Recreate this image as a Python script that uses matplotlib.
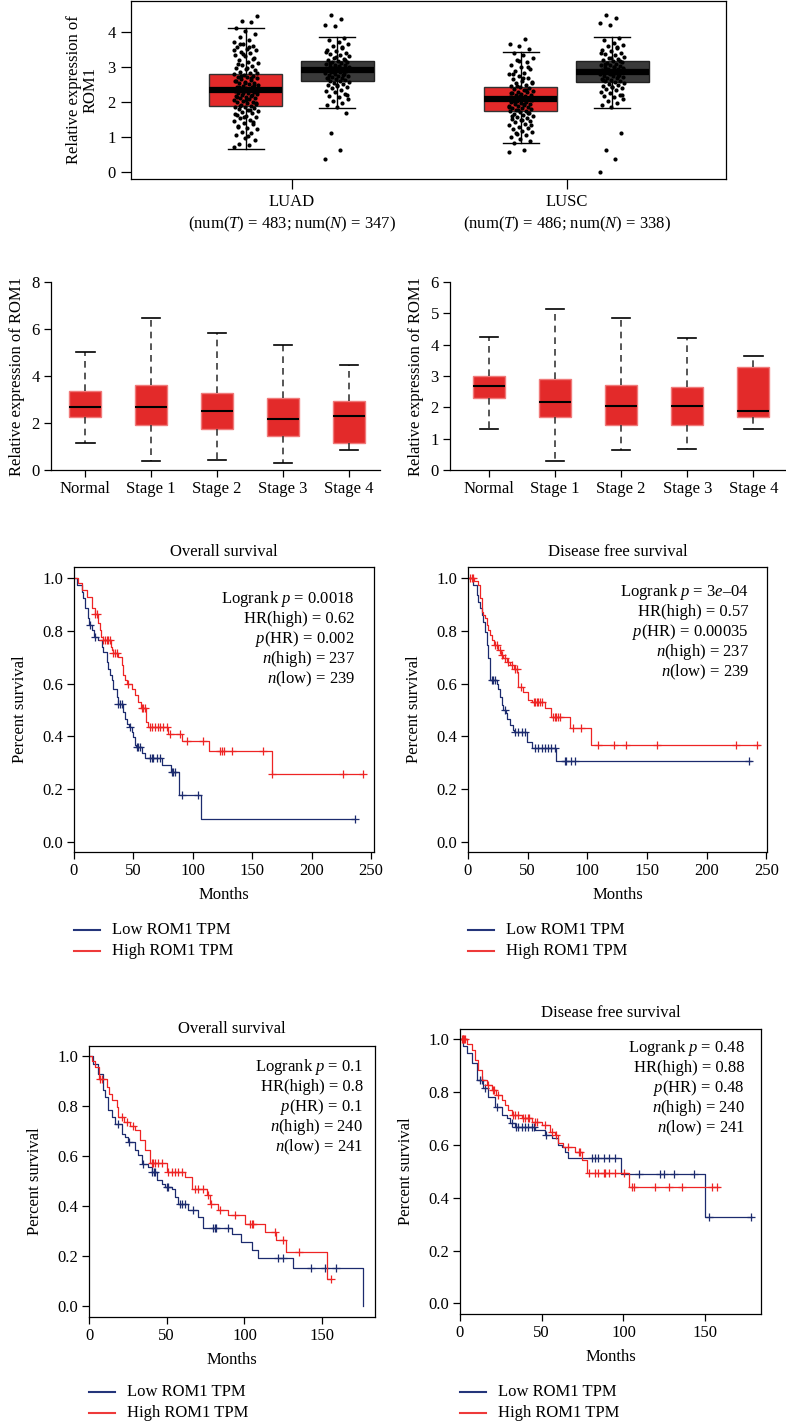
import numpy as np
import matplotlib
matplotlib.use('Agg')
import matplotlib.pyplot as plt
from matplotlib.lines import Line2D

# ---------------- data ----------------
top_categories = ['LUAD', 'LUSC']
top_num_tumor = [483, 486]
top_num_normal = [347, 338]
# (whislo, q1, median, q3, whishi)
luad_tumor_box = [0.66, 1.89, 2.34, 2.82, 4.14]
luad_normal_box = [1.84, 2.61, 2.91, 3.18, 3.86]
lusc_tumor_box = [0.82, 1.74, 2.10, 2.43, 3.45]
lusc_normal_box = [1.84, 2.57, 2.88, 3.18, 3.86]

luad_tumor_points = [0.72, 0.78, 0.81, 0.93, 0.97, 1.05, 1.12, 1.16, 1.23, 1.27, 1.33, 1.38, 1.41, 1.47,
                     1.5, 1.54, 1.57, 1.61, 1.63, 1.68, 1.71, 1.74, 1.77, 1.8, 1.82, 1.85, 1.87, 1.9, 1.93,
                     1.95, 1.97, 2.0, 2.02, 2.04, 2.07, 2.09, 2.11, 2.13, 2.15, 2.17, 2.19, 2.21, 2.23, 2.25,
                     2.27, 2.29, 2.31, 2.33, 2.35, 2.37, 2.39, 2.41, 2.43, 2.45, 2.47, 2.5, 2.52, 2.54, 2.56,
                     2.59, 2.61, 2.63, 2.66, 2.68, 2.71, 2.73, 2.76, 2.79, 2.82, 2.85, 2.88, 2.92, 2.95, 2.99,
                     3.03, 3.07, 3.12, 3.16, 3.21, 3.26, 3.31, 3.36, 3.4, 3.44, 3.49, 3.53, 3.57, 3.61, 3.66,
                     3.72, 3.79, 3.86, 3.95, 4.05, 4.12, 4.29, 4.33, 4.47,
                     1.02, 1.3, 1.44, 1.59, 1.66, 1.79, 1.89, 1.99, 2.06, 2.14, 2.2, 2.26, 2.32, 2.38, 2.44,
                     2.49, 2.55, 2.62, 2.69, 2.75, 2.84, 2.97, 3.1, 3.24, 3.38, 3.5, 3.59, 3.68]
luad_normal_points = [0.38, 0.62, 1.13, 1.7, 1.85, 1.92, 1.98, 2.04, 2.1, 2.15, 2.19, 2.24, 2.28, 2.32,
                      2.36, 2.4, 2.43, 2.46, 2.49, 2.52, 2.55, 2.58, 2.6, 2.62, 2.64, 2.66, 2.68, 2.7, 2.72,
                      2.74, 2.76, 2.78, 2.8, 2.82, 2.84, 2.86, 2.88, 2.9, 2.92, 2.94, 2.96, 2.98, 3.0, 3.02,
                      3.04, 3.06, 3.08, 3.1, 3.12, 3.14, 3.16, 3.19, 3.22, 3.25, 3.28, 3.31, 3.34, 3.38,
                      3.42, 3.46, 3.5, 3.55, 3.6, 3.66, 3.72, 3.78, 3.84, 4.17, 4.22, 4.38, 4.5,
                      2.21, 2.5, 2.69, 2.79, 2.87, 2.95, 3.03, 3.11, 3.2, 3.3, 3.44, 3.58]
lusc_tumor_points = [0.58, 0.62, 0.84, 0.9, 0.95, 1.0, 1.05, 1.1, 1.14, 1.18, 1.22, 1.26, 1.3, 1.34, 1.38,
                     1.42, 1.45, 1.48, 1.51, 1.54, 1.57, 1.6, 1.63, 1.66, 1.69, 1.72, 1.74, 1.76, 1.78, 1.8,
                     1.82, 1.84, 1.86, 1.88, 1.9, 1.92, 1.94, 1.96, 1.98, 2.0, 2.02, 2.04, 2.06, 2.08, 2.1,
                     2.12, 2.14, 2.16, 2.18, 2.2, 2.22, 2.24, 2.26, 2.28, 2.3, 2.32, 2.35, 2.38, 2.41, 2.44,
                     2.47, 2.5, 2.54, 2.58, 2.62, 2.66, 2.7, 2.75, 2.8, 2.85, 2.9, 2.96, 3.02, 3.08, 3.14,
                     3.2, 3.27, 3.34, 3.42, 3.52, 3.6, 3.68, 3.8,
                     1.12, 1.36, 1.5, 1.61, 1.7, 1.79, 1.87, 1.95, 2.03, 2.11, 2.19, 2.27, 2.36, 2.46, 2.56,
                     2.68, 2.82, 3.0, 3.18]
lusc_normal_points = [0.0, 0.37, 0.62, 1.13, 1.85, 1.91, 1.97, 2.03, 2.09, 2.14, 2.18, 2.22, 2.26, 2.3,
                      2.34, 2.38, 2.41, 2.44, 2.47, 2.5, 2.53, 2.56, 2.58, 2.6, 2.62, 2.64, 2.66, 2.68, 2.7,
                      2.72, 2.74, 2.76, 2.78, 2.8, 2.82, 2.84, 2.86, 2.88, 2.9, 2.92, 2.94, 2.96, 2.98, 3.0,
                      3.02, 3.04, 3.06, 3.08, 3.1, 3.12, 3.15, 3.18, 3.21, 3.24, 3.27, 3.3, 3.34, 3.38, 3.42,
                      3.46, 3.5, 3.55, 3.6, 3.65, 3.71, 3.77, 3.83, 4.2, 4.28, 4.4, 4.5,
                      2.2, 2.45, 2.63, 2.75, 2.85, 2.93, 3.01, 3.09, 3.17, 3.26, 3.4, 3.57]

stage_labels = ['Normal', 'Stage 1', 'Stage 2', 'Stage 3', 'Stage 4']
luad_stage_box = [[1.16, 2.27, 2.70, 3.38, 5.00],
                  [0.40, 1.92, 2.70, 3.62, 6.46],
                  [0.44, 1.73, 2.51, 3.27, 5.85],
                  [0.28, 1.45, 2.17, 3.05, 5.33],
                  [0.84, 1.16, 2.30, 2.94, 4.47]]
lusc_stage_box = [[1.31, 2.30, 2.67, 3.01, 4.23],
                  [0.29, 1.69, 2.18, 2.90, 5.14],
                  [0.65, 1.45, 2.05, 2.71, 4.86],
                  [0.67, 1.45, 2.03, 2.64, 4.20],
                  [1.32, 1.69, 1.89, 3.29, 3.65]]

# Kaplan-Meier curves: event times, survival after event, censor times, follow-up end
luad_os_high_t = [3, 7, 11, 15, 17.5, 20.5, 22, 23, 24.5, 31, 32, 33, 37, 40, 41.5, 43, 45, 48.5, 51.3,
                  54.2, 56.5, 61, 62.6, 79, 90.6, 113.9, 166.4]
luad_os_high_s = [0.98, 0.955, 0.93, 0.885, 0.862, 0.828, 0.803, 0.777, 0.765, 0.74, 0.727, 0.714, 0.702,
                  0.67, 0.633, 0.613, 0.60, 0.581, 0.556, 0.531, 0.506, 0.455, 0.437, 0.41, 0.383, 0.345, 0.257]
luad_os_high_c = [17.7, 19.1, 24.7, 26.1, 27.5, 28.9, 30.3, 33.1, 34.5, 35.9, 45.7, 56.9, 58.4, 59.8, 64,
                  65.4, 68.2, 71, 72.4, 75.2, 78, 80.5, 89.2, 94.8, 108.9, 122.9, 124.3, 126.3, 132.8,
                  159.4, 166.4, 226.2, 243]
luad_os_high_end = 243
luad_os_low_t = [2.4, 6.4, 7.8, 9.3, 12.1, 13, 14.9, 17, 20.5, 23.3, 24.7, 27.5, 28.9, 30.3, 31.7, 33.1,
                 35.9, 37, 41.5, 42.9, 44.5, 46.5, 48.5, 49.9, 51.3, 52.5, 56.9, 59.8, 73.8, 81.5, 88.7, 106.6]
luad_os_low_s = [0.975, 0.949, 0.923, 0.885, 0.847, 0.822, 0.803, 0.777, 0.765, 0.739, 0.72, 0.683, 0.657,
                 0.632, 0.613, 0.581, 0.55, 0.524, 0.493, 0.467, 0.448, 0.436, 0.417, 0.398, 0.366, 0.36,
                 0.335, 0.318, 0.291, 0.266, 0.177, 0.086]
luad_os_low_c = [13.5, 17.7, 37.3, 38.7, 40.1, 47.1, 52.8, 54.2, 55.6, 64, 65.4, 66.8, 69.6, 72.4, 82.2,
                 83.6, 85, 90.6, 104.7, 236.5]
luad_os_low_end = 236.5

luad_dfs_high_t = [5, 8.6, 10, 11.4, 12.8, 14.2, 15.6, 17, 18.4, 19.8, 22, 25.4, 27.5, 29.5, 32.5, 35.5,
                   38.5, 41, 42.1, 46.3, 50.4, 54, 64.4, 69.9, 85.3, 102.8]
luad_dfs_high_s = [0.99, 0.973, 0.923, 0.872, 0.86, 0.847, 0.822, 0.803, 0.784, 0.765, 0.746, 0.727, 0.708,
                   0.695, 0.683, 0.67, 0.657, 0.645, 0.588, 0.569, 0.537, 0.531, 0.506, 0.474, 0.43, 0.367]
luad_dfs_high_c = [1.5, 3.1, 4.5, 22.6, 23.97, 26.8, 28.1, 30.9, 33.7, 36.5, 39.3, 40.7, 44, 55, 56, 57.4,
                   58.8, 60.2, 61.6, 71.3, 72.7, 74.1, 75.5, 77, 88.1, 95, 109, 122, 132, 158.6, 224.9, 242.2]
luad_dfs_high_end = 244
luad_dfs_low_t = [4.5, 7.3, 8.6, 10, 11.4, 12.8, 14.2, 15.6, 17, 18.4, 23.97, 25.4, 26.8, 28.1, 29.5, 31.5,
                  32.3, 35.1, 37.9, 38.5, 49.1, 53.2, 74.1]
luad_dfs_low_s = [0.973, 0.935, 0.91, 0.885, 0.86, 0.834, 0.796, 0.746, 0.695, 0.613, 0.6, 0.581, 0.55,
                  0.518, 0.5, 0.487, 0.467, 0.442, 0.423, 0.417, 0.379, 0.354, 0.306]
luad_dfs_low_c = [19.8, 21.2, 22.6, 30.9, 39.3, 42.1, 44.9, 47.7, 56, 58.8, 61.6, 64.4, 67.2, 69.9, 72.7,
                  81.1, 82.5, 86.7, 89.5, 235.8]
luad_dfs_low_end = 237

lusc_os_high_t = [2, 3.9, 6.5, 11.4, 13, 14.6, 17.8, 18.9, 22.5, 26.5, 29.6, 32.8, 36, 39.2, 49.9, 61.7,
                  66, 75.6, 77.8, 83.1, 89.6, 100.3, 113.1, 120.6, 127, 153.4]
lusc_os_high_s = [0.98, 0.956, 0.91, 0.876, 0.85, 0.823, 0.796, 0.756, 0.736, 0.72, 0.703, 0.663, 0.623,
                  0.573, 0.537, 0.517, 0.47, 0.444, 0.41, 0.384, 0.364, 0.33, 0.297, 0.264, 0.217, 0.11]
lusc_os_high_c = [7.1, 8.1, 21, 24.2, 28.5, 40.3, 41.3, 42.4, 44.6, 46.7, 51, 53.1, 55.3, 57.4, 59.6, 68.1,
                  70.3, 73.5, 76.5, 78.5, 84, 93.9, 103.5, 104.6, 105.6, 119.6, 124.5, 135.2, 156]
lusc_os_high_end = 156
lusc_os_low_t = [2.8, 6, 9.2, 10.3, 12.4, 14.6, 16.7, 21, 23.1, 25.3, 29.6, 31.7, 33.8, 38.1, 40.3, 43.5,
                 46.7, 48.9, 53.1, 55.3, 57.4, 63.9, 70.3, 73.5, 91.7, 98.1, 104.6, 108.9, 131.4, 176.4]
lusc_os_low_s = [0.97, 0.93, 0.863, 0.837, 0.783, 0.756, 0.73, 0.69, 0.676, 0.657, 0.623, 0.603, 0.57,
                 0.557, 0.537, 0.504, 0.49, 0.477, 0.47, 0.437, 0.41, 0.384, 0.357, 0.314, 0.29, 0.257,
                 0.223, 0.194, 0.154, 0.0]
lusc_os_low_c = [18.9, 25.8, 34.9, 40.8, 41.5, 42.4, 49.9, 51, 58.5, 59.6, 61.7, 67.1, 80, 81, 82, 89.6,
                 121.7, 124.5, 142.7, 152.1, 158.6]
lusc_os_low_end = 176.4

lusc_dfs_high_t = [4.1, 7.1, 9.2, 11.2, 13.3, 16.3, 19.4, 22, 25.5, 27.6, 29.6, 31.6, 37.8, 44, 50, 55.1,
                   58.2, 60.2, 63.3, 70.4, 74.5, 77.6, 103.2]
lusc_dfs_high_s = [0.984, 0.959, 0.921, 0.884, 0.846, 0.827, 0.808, 0.79, 0.77, 0.75, 0.732, 0.714, 0.701,
                   0.688, 0.675, 0.65, 0.637, 0.606, 0.593, 0.574, 0.542, 0.494, 0.441]
lusc_dfs_high_c = [1, 1.6, 2.1, 2.6, 3.1, 17.3, 20, 21, 23.5, 32.5, 33.7, 35.7, 38.5, 39.8, 41.8, 42.5,
                   45.9, 47, 52, 56.5, 59, 66.3, 72.5, 73.5, 78.6, 82.7, 84.7, 87.8, 88.8, 90.9, 95, 100.1,
                   105.2, 106.2, 119.5, 127.7, 135.9, 154.3, 157.4]
lusc_dfs_high_end = 158.4
lusc_dfs_low_t = [2, 4.1, 7.1, 10.2, 14.3, 17.3, 21.4, 25.5, 28.6, 30.6, 33.7, 45.9, 52, 56.1, 60.2, 62.3,
                  64.3, 66.3, 98.5, 150.1]
lusc_dfs_low_s = [0.975, 0.947, 0.909, 0.846, 0.814, 0.783, 0.745, 0.714, 0.701, 0.682, 0.669, 0.657,
                  0.638, 0.625, 0.6, 0.593, 0.574, 0.549, 0.49, 0.326]
lusc_dfs_low_c = [12.2, 13.3, 15.3, 22.5, 31.6, 34.5, 35.7, 37.8, 39.8, 41.8, 43.9, 45, 52.5, 80.6, 82.7,
                  84.7, 87.8, 90.9, 95, 109.3, 122.6, 124.6, 130.8, 143, 152.2, 177.7]
lusc_dfs_low_end = 178.7

km_stats = {
    'luad_os': ['Logrank $p$ = 0.0018', 'HR(high) = 0.62', '$p$(HR) = 0.002', '$n$(high) = 237', '$n$(low) = 239'],
    'luad_dfs': ['Logrank $p$ = 3$e$\u201304', 'HR(high) = 0.57', '$p$(HR) = 0.00035', '$n$(high) = 237', '$n$(low) = 239'],
    'lusc_os': ['Logrank $p$ = 0.1', 'HR(high) = 0.8', '$p$(HR) = 0.1', '$n$(high) = 240', '$n$(low) = 241'],
    'lusc_dfs': ['Logrank $p$ = 0.48', 'HR(high) = 0.88', '$p$(HR) = 0.48', '$n$(high) = 240', '$n$(low) = 241'],
}
legend_labels = ['Low ROM1 TPM', 'High ROM1 TPM']

# ---------------- style ----------------
plt.rcParams['font.family'] = ['Liberation Serif', 'DejaVu Serif']
plt.rcParams['mathtext.fontset'] = 'custom'
plt.rcParams['mathtext.rm'] = 'Liberation Serif'
plt.rcParams['mathtext.it'] = 'Liberation Serif:italic'
plt.rcParams['font.size'] = 12
plt.rcParams['axes.linewidth'] = 0.9

W, H = 786, 1423
fig = plt.figure(figsize=(W / 100, H / 100), dpi=100)


def add_ax(x0, y0, x1, y1):
    return fig.add_axes([x0 / W, 1 - y1 / H, (x1 - x0) / W, (y1 - y0) / H])


def stats(v):
    return dict(whislo=v[0], q1=v[1], med=v[2], q3=v[3], whishi=v[4], fliers=[])


RED = '#E32A2A'
DARK = '#3A3A3A'
KM_RED = '#EE2424'
KM_BLUE = '#1C2B6E'

# ---------------- top panel ----------------
ax = add_ax(131, 1, 726, 179)
centers = np.arange(len(top_categories))
off = 0.166
bw = 0.265
tumor_boxes = [luad_tumor_box, lusc_tumor_box]
normal_boxes = [luad_normal_box, lusc_normal_box]
tumor_pts = [luad_tumor_points, lusc_tumor_points]
normal_pts = [luad_normal_points, lusc_normal_points]
common = dict(widths=bw, patch_artist=True, showfliers=False, capwidths=bw / 2,
              whiskerprops=dict(color='black', lw=1.0), capprops=dict(color='black', lw=1.0),
              medianprops=dict(color='black', lw=4.5, solid_capstyle='butt'), manage_ticks=False)
ax.bxp([stats(b) for b in tumor_boxes], positions=centers - off,
       boxprops=dict(facecolor=RED, edgecolor='#333333', lw=1.0), **common)
ax.bxp([stats(b) for b in normal_boxes], positions=centers + off,
       boxprops=dict(facecolor=DARK, edgecolor='#222222', lw=1.0), **common)
for i in range(len(top_categories)):
    for pos, pts in ((centers[i] - off, tumor_pts[i]), (centers[i] + off, normal_pts[i])):
        pts = np.asarray(pts)
        jit = ((np.arange(len(pts)) * 0.6180339887) % 1.0 - 0.5) * 0.09
        ax.scatter(pos + jit, pts, s=9, color='black', lw=0, zorder=5)
ax.set_xlim(-0.584, 1.58)
ax.set_ylim(-0.2, 4.9)
ax.set_yticks([0, 1, 2, 3, 4])
ax.set_xticks(centers)
ax.set_xticklabels([f'{c}\n(num($T$) = {nt}; num($N$) = {nn})'
                    for c, nt, nn in zip(top_categories, top_num_tumor, top_num_normal)],
                   linespacing=1.3)
ax.tick_params(axis='x', length=7, width=0.9, pad=4)
ax.tick_params(axis='y', length=7, width=0.9, pad=4)
ax.set_ylabel('Relative expression of\nROM1', labelpad=6, linespacing=1.05)

# ---------------- middle panels ----------------
mid_specs = [((51, 282, 380, 470), luad_stage_box, (0, 8), [0, 2, 4, 6, 8], (-0.52, 4.47)),
             ((450, 282, 785, 470), lusc_stage_box, (0, 6), [0, 1, 2, 3, 4, 5, 6], (-0.59, 4.48))]
for rect, boxes, ylim, yt, xlim in mid_specs:
    ax = add_ax(*rect)
    pos = np.arange(len(stage_labels))
    ax.bxp([stats(b) for b in boxes], positions=pos, widths=0.49, patch_artist=True,
           showfliers=False, capwidths=0.28,
           boxprops=dict(facecolor=RED, edgecolor='#F07A7A', lw=1.0),
           medianprops=dict(color='black', lw=1.5, solid_capstyle='butt'),
           whiskerprops=dict(color='#3A3A3A', lw=1.2, linestyle=(0, (4, 3))),
           capprops=dict(color='black', lw=1.2), manage_ticks=False)
    ax.set_xticks(pos)
    ax.set_xticklabels(stage_labels)
    ax.set_xlim(*xlim)
    ax.set_ylim(*ylim)
    ax.set_yticks(yt)
    for s in ('top', 'right'):
        ax.spines[s].set_visible(False)
    ax.tick_params(length=5, width=0.9, pad=3)
    ax.set_ylabel('Relative expression of ROM1', labelpad=5)

# ---------------- survival panels ----------------
def km(ax, t, s, c, end, color):
    t = np.asarray(t, float)
    s = np.asarray(s, float)
    tt = np.concatenate([[0.0], t, [end]])
    ss = np.concatenate([[1.0], s, [s[-1]]])
    ax.step(tt, ss, where='post', color=color, lw=0.9)
    c = np.asarray(c, float)
    idx = np.searchsorted(t, c, side='right')
    yc = np.concatenate([[1.0], s])[idx]
    ax.plot(c, yc, ls='none', marker='+', ms=6, mew=0.9, color=color)


km_specs = [
    ((74, 567, 374, 852), 'Overall survival', (0, 252.5), (-0.039, 1.042), [0, 50, 100, 150, 200, 250],
     (luad_os_low_t, luad_os_low_s, luad_os_low_c, luad_os_low_end),
     (luad_os_high_t, luad_os_high_s, luad_os_high_c, luad_os_high_end), 'luad_os', 15, (19, 32), 78),
    ((468, 567, 767, 852), 'Disease free survival', (0, 250.5), (-0.039, 1.042), [0, 50, 100, 150, 200, 250],
     (luad_dfs_low_t, luad_dfs_low_s, luad_dfs_low_c, luad_dfs_low_end),
     (luad_dfs_high_t, luad_dfs_high_s, luad_dfs_high_c, luad_dfs_high_end), 'luad_dfs', 15, (18, 25), 78),
    ((89, 1046, 375, 1317), 'Overall survival', (0, 184), (-0.043, 1.040), [0, 50, 100, 150],
     (lusc_os_low_t, lusc_os_low_s, lusc_os_low_c, lusc_os_low_end),
     (lusc_os_high_t, lusc_os_high_s, lusc_os_high_c, lusc_os_high_end), 'lusc_os', 17, (12, 21), 75),
    ((460, 1029, 761, 1314), 'Disease free survival', (0, 184.1), (-0.040, 1.039), [0, 50, 100, 150],
     (lusc_dfs_low_t, lusc_dfs_low_s, lusc_dfs_low_c, lusc_dfs_low_end),
     (lusc_dfs_high_t, lusc_dfs_high_s, lusc_dfs_high_c, lusc_dfs_high_end), 'lusc_dfs', 16, (16, 19), 78),
]
for rect, title, xlim, ylim, xt, low, high, key, tpad, txt_off, leg_off in km_specs:
    ax = add_ax(*rect)
    km(ax, *low, KM_BLUE)
    km(ax, *high, KM_RED)
    ax.set_xlim(*xlim)
    ax.set_ylim(*ylim)
    ax.set_xticks(xt)
    ax.set_yticks([0, 0.2, 0.4, 0.6, 0.8, 1.0])
    ax.set_yticklabels(['0.0', '0.2', '0.4', '0.6', '0.8', '1.0'])
    ax.tick_params(length=5, width=0.9, pad=3)
    ax.set_xlabel('Months', labelpad=6)
    ax.set_ylabel('Percent survival', labelpad=10)
    ax.annotate(title, xy=(0.5, 1), xycoords='axes fraction', xytext=(0, tpad),
                textcoords='offset pixels', ha='center', va='center')
    for j, line in enumerate(km_stats[key]):
        ax.annotate(line, xy=(1, 1), xycoords='axes fraction',
                    xytext=(-txt_off[0], -txt_off[1] - 20 * j), textcoords='offset pixels',
                    ha='right', va='center')
    x0, y0, x1, y1 = rect
    for j, (lab, col) in enumerate(zip(legend_labels, ['#24357A', '#EE3A3A'])):
        yy = y1 + leg_off + 21 * j
        fig.add_artist(Line2D([x0 / W, (x0 + 26) / W], [1 - yy / H, 1 - yy / H],
                              transform=fig.transFigure, color=col, lw=1.5))
        fig.text((x0 + 38) / W, 1 - yy / H, lab, ha='left', va='center')

fig.savefig('out.png', dpi=100)
